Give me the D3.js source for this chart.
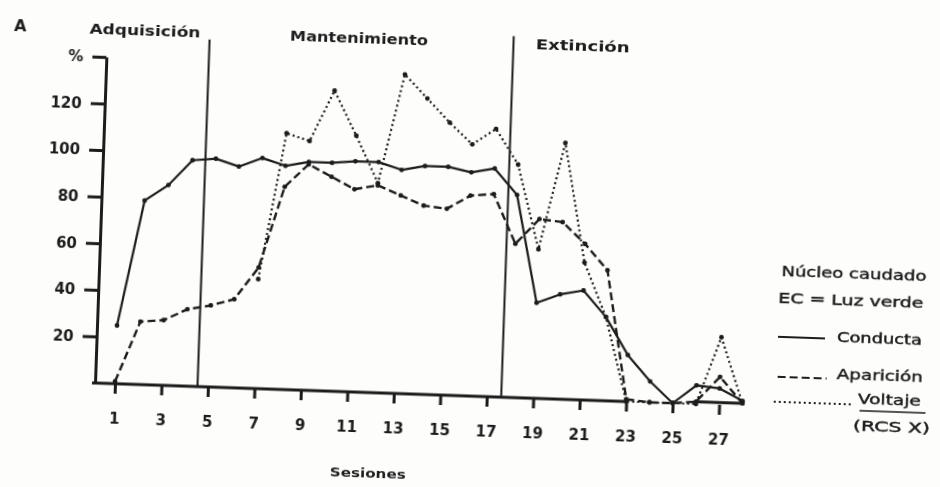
<!DOCTYPE html>
<html>
<head>
<meta charset="utf-8">
<script src="https://cdn.jsdelivr.net/npm/d3@7"></script>
<style>
  html, body { margin: 0; padding: 0; background: #fdfdfc; }
  svg { display: block; }
  text { font-family: "DejaVu Sans", "Liberation Sans", Arial, sans-serif; fill: #1c1c1c; }
</style>
</head>
<body>
<svg id="chart" width="940" height="487"></svg>
<script>
// Sessions and the three measures (% per session)
const sessions = [1, 2, 3, 4, 5, 6, 7, 8, 9, 10, 11, 12, 13, 14, 15, 16, 17, 18, 19, 20, 21, 22, 23, 24, 25, 26, 27, 28];
const conductaVals = [25, 79, 86, 97, 98, 95, 99, 96, 98, 98, 99, 99, 96, 98, 98, 96, 98, 87, 41, 45, 47, 36, 20, 9, 0, 8, 7, 2];
const aparicionVals = [1, 27, 28, 33, 35, 38, 52, 87, 97, 92, 87, 89, 85, 81, 80, 86, 87, 66, 77, 76, 67, 56, 1, 0, 0, 1, 12, 1];
const voltajeSessions = [7, 8, 9, 10, 11, 12, 13, 14, 15, 16, 17, 18, 19, 20, 21, 22, 23, 24, 25, 26, 27, 28];
const voltajeVals = [47, 110, 107, 129, 110, 90, 137, 127, 117, 108, 115, 100, 64, 110, 59, 36, 0, 0, 0, 0, 29, 1];

// Axis ticks
const xTickValues = [1, 3, 5, 7, 9, 11, 13, 15, 17, 19, 21, 23, 25, 27];
const yTickValues = [20, 40, 60, 80, 100, 120, 140];
const yTickLabels = ["20", "40", "60", "80", "100", "120", "%"];

// Experimental phases
const phaseNames = ["Adquisición", "Mantenimiento", "Extinción"];
const phaseLabelSession = [1.76, 10.97, 20.6];
const phaseLabelWidth = [111, 138, 94];
const phaseBreaks = [4.55, 17.62];
const phaseBreakTops = [149, 155];

// Legend text
const legendTitle = ["Núcleo caudado", "EC = Luz verde"];
const seriesNames = ["Conducta", "Aparición", "Voltaje"];
const voltajeUnit = "(RCS X)";

const ink = "#1c1c1c";
const svg = d3.select("#chart");

// soft print look
const defs = svg.append("defs");
defs.append("filter").attr("id", "soft")
  .append("feGaussianBlur").attr("stdDeviation", 0.45);

// the figure sits slightly tilted on the page
const g = svg.append("g")
  .attr("transform", "translate(95,383) rotate(2)")
  .attr("filter", "url(#soft)");

const x = d3.scaleLinear().domain([1, 28]).range([20, 647.75]);
const y = d3.scaleLinear().domain([0, 140]).range([0, -326.2]);

// Y axis
const yAxis = g.append("g")
  .call(d3.axisLeft(y).tickValues(yTickValues)
    .tickFormat((d, i) => yTickLabels[i])
    .tickSize(14).tickPadding(9).tickSizeOuter(0));
yAxis.select(".domain").attr("stroke", ink).attr("stroke-width", 3);
yAxis.selectAll(".tick line").attr("stroke", ink).attr("stroke-width", 3);
yAxis.selectAll(".tick text")
  .attr("font-family", "DejaVu Sans, sans-serif")
  .attr("font-weight", "bold").attr("font-size", 15).attr("fill", ink);

// X axis (baseline drawn in pieces; the data lines carry it between 23 and 26)
const xAxis = g.append("g")
  .call(d3.axisBottom(x).tickValues(xTickValues)
    .tickSize(10).tickPadding(19).tickSizeOuter(0));
xAxis.select(".domain").remove();
xAxis.selectAll(".tick line").attr("stroke", ink).attr("stroke-width", 3);
xAxis.selectAll(".tick text")
  .attr("font-family", "DejaVu Sans, sans-serif")
  .attr("font-weight", "bold").attr("font-size", 15).attr("fill", ink);

g.append("line")
  .attr("x1", -3).attr("x2", x(23)).attr("y1", y(0)).attr("y2", y(0))
  .attr("stroke", ink).attr("stroke-width", 3);
g.append("line")
  .attr("x1", x(26)).attr("x2", x(28)).attr("y1", y(1)).attr("y2", y(1))
  .attr("stroke", ink).attr("stroke-width", 3);

// Phase boundaries
g.selectAll("line.phase").data(phaseBreaks).join("line")
  .attr("class", "phase")
  .attr("x1", d => x(d)).attr("x2", d => x(d))
  .attr("y1", y(0)).attr("y2", (d, i) => y(phaseBreakTops[i]))
  .attr("stroke", ink).attr("stroke-width", 2);

g.selectAll("text.phase").data(phaseNames).join("text")
  .attr("class", "phase")
  .attr("x", (d, i) => x(phaseLabelSession[i]))
  .attr("y", y(152))
  .attr("text-anchor", "middle").attr("dominant-baseline", "central")
  .attr("font-weight", "bold").attr("font-size", 14.5)
  .attr("textLength", (d, i) => phaseLabelWidth[i])
  .attr("lengthAdjust", "spacingAndGlyphs")
  .text(d => d);

// Panel letter
g.append("text")
  .attr("x", -87).attr("y", -355)
  .attr("text-anchor", "middle").attr("dominant-baseline", "central")
  .attr("font-weight", "bold").attr("font-size", 16)
  .text("A");

// Axis title
g.append("text")
  .attr("x", x(12)).attr("y", 80)
  .attr("text-anchor", "middle").attr("dominant-baseline", "central")
  .attr("font-weight", "bold").attr("font-size", 13)
  .attr("textLength", 76).attr("lengthAdjust", "spacingAndGlyphs")
  .text("Sesiones");

// Series
const series = [
  { name: seriesNames[0], pts: sessions.map((s, i) => ({ s, v: conductaVals[i] })), dash: null, width: 2.2 },
  { name: seriesNames[1], pts: sessions.map((s, i) => ({ s, v: aparicionVals[i] })), dash: "8,4", width: 2.4 },
  { name: seriesNames[2], pts: voltajeSessions.map((s, i) => ({ s, v: voltajeVals[i] })), dash: "2,3", width: 2.2 }
];

const line = d3.line().x(d => x(d.s)).y(d => y(d.v));

series.forEach(sr => {
  g.append("path")
    .datum(sr.pts)
    .attr("d", line)
    .attr("fill", "none")
    .attr("stroke", ink)
    .attr("stroke-width", sr.width)
    .attr("stroke-linejoin", "round")
    .attr("stroke-dasharray", sr.dash);
  g.selectAll(null).data(sr.pts).join("circle")
    .attr("cx", d => x(d.s)).attr("cy", d => y(d.v))
    .attr("r", 2.4).attr("fill", ink);
});

// Legend (regular face, slightly thickened like printed type)
const lg = g.append("g")
  .attr("font-size", 14.5)
  .attr("stroke", ink).attr("stroke-width", 0.45);
lg.append("text").attr("x", 754.7).attr("y", -136.5)
  .attr("text-anchor", "middle").attr("dominant-baseline", "central")
  .attr("textLength", 145).attr("lengthAdjust", "spacingAndGlyphs")
  .text(legendTitle[0]);
lg.append("text").attr("x", 752.6).attr("y", -109.5)
  .attr("text-anchor", "middle").attr("dominant-baseline", "central")
  .attr("textLength", 145).attr("lengthAdjust", "spacingAndGlyphs")
  .text(legendTitle[1]);

const legendRows = [
  { x1: 681, x2: 728, ly: -70, tx: 740, ty: -72, tw: 85, dash: null },
  { x1: 682, x2: 731, ly: -30, tx: 741, ty: -35, tw: 86, dash: "8,4" },
  { x1: 679, x2: 759, ly: -5, tx: 763, ty: -11, tw: 63, dash: "2,3" }
];
legendRows.forEach((r, i) => {
  lg.append("line").attr("x1", r.x1).attr("x2", r.x2).attr("y1", r.ly).attr("y2", r.ly)
    .attr("stroke", ink).attr("stroke-width", 2).attr("stroke-dasharray", r.dash);
  lg.append("text").attr("x", r.tx).attr("y", r.ty)
    .attr("dominant-baseline", "central")
    .attr("textLength", r.tw).attr("lengthAdjust", "spacingAndGlyphs")
    .text(seriesNames[i]);
});
lg.append("line").attr("x1", 765).attr("x2", 831).attr("y1", 1).attr("y2", 1)
  .attr("stroke", ink).attr("stroke-width", 1.6);
lg.append("text").attr("x", 759).attr("y", 16)
  .attr("dominant-baseline", "central")
  .attr("textLength", 77).attr("lengthAdjust", "spacingAndGlyphs")
  .text(voltajeUnit);
</script>
</body>
</html>
